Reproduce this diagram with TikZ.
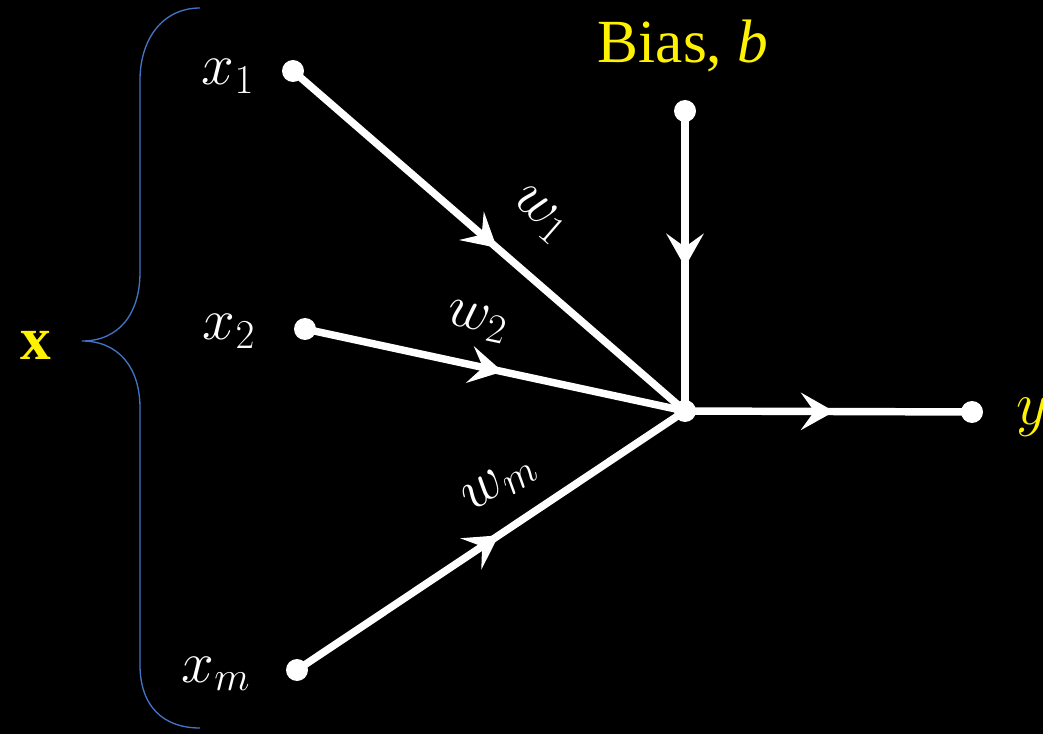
\RequirePackage{fix-cm}
\documentclass[tikz,border=0pt]{standalone}
\usepackage{fontspec}
\setmainfont{Liberation Serif}
\usetikzlibrary{arrows.meta,decorations.markings}
\definecolor{braceblue}{HTML}{4472C4}
\tikzset{
  dot/.style={circle,fill=white,inner sep=0pt,minimum size=16.5pt},
  wire/.style={draw=white,line width=5.6pt,postaction={decorate},
    decoration={markings,mark=at position 0.52 with {\arrow[white]{Stealth[length=25pt,width=28pt,inset=10pt]}}}},
  lbl/.style={text=white,font=\fontsize{44}{50}\selectfont,inner sep=0pt},
  ylbl/.style={text=yellow,font=\fontsize{46}{50}\selectfont,inner sep=0pt},
  brace/.style={draw=braceblue,line width=1pt}
}
\begin{document}
\begin{tikzpicture}[x=0.75pt,y=-0.75pt]
\fill[black] (0,0) rectangle (1043,734);
\useasboundingbox (0,0) rectangle (1043,734);
\clip (0,0) rectangle (1043,734);
% brace
\draw[brace] (200,8) .. controls (162,8) and (140,40) .. (140,80) -- (140,272)
  .. controls (140,315) and (118,341) .. (82,341)
  .. controls (118,341) and (140,367) .. (140,408) -- (140,665)
  .. controls (140,705) and (162,728) .. (200,728);
% nodes
\node[dot] (x1) at (293,71) {};
\node[dot] (x2) at (305,329) {};
\node[dot] (xm) at (297,670) {};
\node[dot] (c) at (685,411) {};
\node[dot] (b) at (685,111) {};
\node[dot] (y) at (972,412) {};
% connectors
\path[wire] (x1.center) -- (c.center);
\path[wire] (x2.center) -- (c.center);
\path[wire] (xm.center) -- (c.center);
\path[wire] (b.center) -- (c.center);
\path[wire] (c.center) -- (y.center);
% labels
\node[lbl,anchor=base] (lx1) at (228,85) {$x_1$};
\node[lbl,anchor=base] (lx2) at (229,340) {$x_2$};
\node[lbl,anchor=base] (lxm) at (216,682) {$x_m$};
\node[lbl,rotate=-41] (lw1) at (540,215) {$w_1$};
\node[lbl,rotate=-12] (lw2) at (477,322) {$w_2$};
\node[lbl,rotate=34] (lwm) at (500,484) {$w_m$};
\node[ylbl,anchor=base] (lb) at (683,63) {Bias, \textit{b}};
\node[ylbl,anchor=base west] (ly) at (1016,425) {$y$};
\node[ylbl,anchor=base] (lx) at (36,360) {$\mathbf{x}$};
\end{tikzpicture}
\end{document}
